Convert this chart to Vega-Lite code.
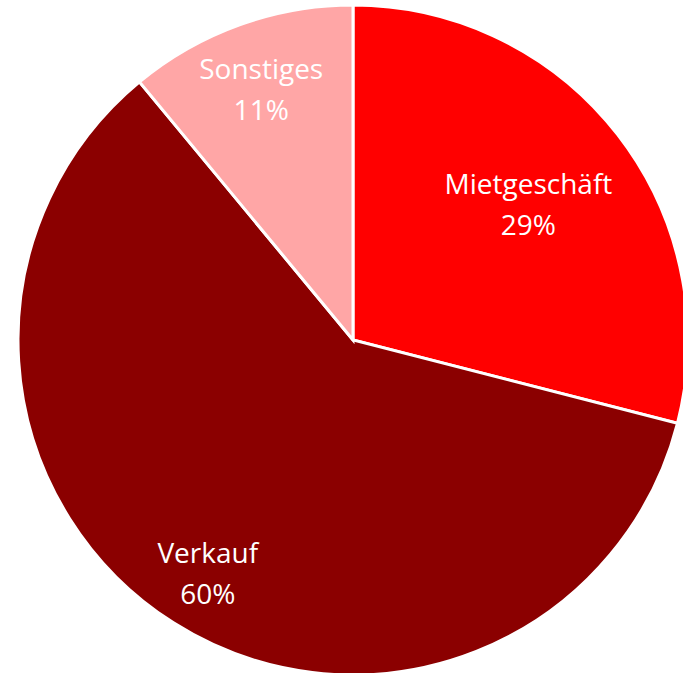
{
  "$schema": "https://vega.github.io/schema/vega-lite/v6.json",
  "autosize": {"type": "none"},
  "width": 660,
  "height": 666,
  "padding": {"left": 23, "top": 7, "right": 0, "bottom": 0},
  "background": "white",
  "view": {"stroke": null},
  "data": {
    "values": [
      {"segment": "Mietgeschäft", "share": 0.29, "rank": 1},
      {"segment": "Verkauf", "share": 0.60, "rank": 2},
      {"segment": "Sonstiges", "share": 0.11, "rank": 3}
    ]
  },
  "transform": [
    {"stack": "share", "groupby": [], "sort": [{"field": "rank", "order": "ascending"}], "as": ["s0", "s1"]},
    {"calculate": "(datum.s0 + datum.s1) / 2", "as": "mid"}
  ],
  "layer": [
    {
      "mark": {"type": "arc", "outerRadius": 335, "stroke": "white", "strokeWidth": 3},
      "encoding": {
        "theta": {"field": "s0", "type": "quantitative", "stack": null, "scale": {"domain": [0, 1]}},
        "theta2": {"field": "s1"},
        "color": {
          "field": "segment",
          "type": "nominal",
          "scale": {"domain": ["Mietgeschäft", "Verkauf", "Sonstiges"], "range": ["#FF0000", "#8B0000", "#FFA6A6"]},
          "legend": null
        }
      }
    },
    {
      "transform": [{"filter": "datum.segment === 'Mietgeschäft'"}],
      "mark": {"type": "text", "radius": 222, "dy": -10, "baseline": "alphabetic", "align": "center", "font": "Open Sans", "fontSize": 28, "fill": "white"},
      "encoding": {
        "theta": {"field": "mid", "type": "quantitative", "stack": null},
        "text": {"field": "segment", "type": "nominal"}
      }
    },
    {
      "transform": [{"filter": "datum.segment === 'Mietgeschäft'"}],
      "mark": {"type": "text", "radius": 222, "dy": 31, "baseline": "alphabetic", "align": "center", "font": "Open Sans", "fontSize": 28, "fill": "white"},
      "encoding": {
        "theta": {"field": "mid", "type": "quantitative", "stack": null},
        "text": {"field": "share", "type": "quantitative", "format": ".0%"}
      }
    },
    {
      "transform": [{"filter": "datum.segment !== 'Mietgeschäft'"}],
      "mark": {"type": "text", "radius": 271, "dy": -6, "baseline": "alphabetic", "align": "center", "font": "Open Sans", "fontSize": 28, "fill": "white"},
      "encoding": {
        "theta": {"field": "mid", "type": "quantitative", "stack": null},
        "text": {"field": "segment", "type": "nominal"}
      }
    },
    {
      "transform": [{"filter": "datum.segment !== 'Mietgeschäft'"}],
      "mark": {"type": "text", "radius": 271, "dy": 35, "baseline": "alphabetic", "align": "center", "font": "Open Sans", "fontSize": 28, "fill": "white"},
      "encoding": {
        "theta": {"field": "mid", "type": "quantitative", "stack": null},
        "text": {"field": "share", "type": "quantitative", "format": ".0%"}
      }
    }
  ]
}
